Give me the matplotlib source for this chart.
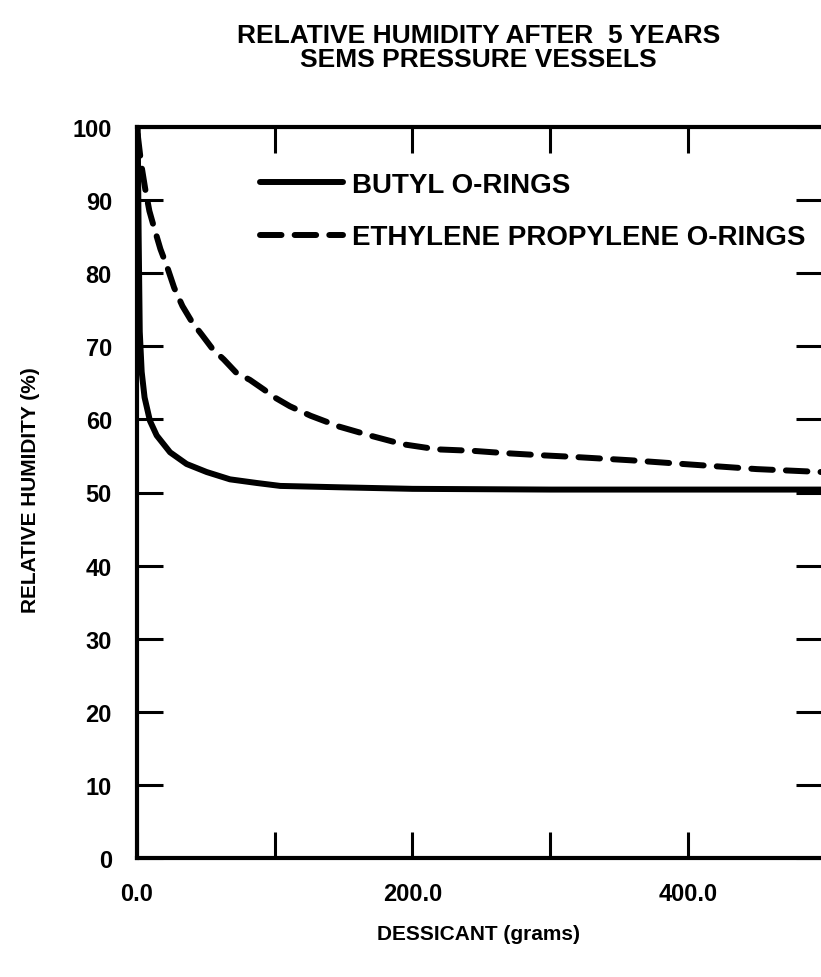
import matplotlib
matplotlib.use("Agg")
import matplotlib.pyplot as plt
from matplotlib.ticker import FixedLocator, FuncFormatter

# ---- data ----
butyl_x = [0.5, 1.2, 2.0, 3.4, 5.5, 9.4, 14.3, 24, 36, 50.6, 67.5, 87, 104, 150, 200, 300, 400, 497]
butyl_y = [100, 85, 72, 66.5, 63, 59.8, 57.8, 55.5, 53.9, 52.8, 51.8, 51.3, 50.9, 50.7, 50.5, 50.4, 50.4, 50.4]

ep_x = [0.5, 3, 6, 9, 12, 17, 22, 27, 33, 40, 47, 55, 63, 72, 82, 92, 100, 111, 126, 147,
        171, 193, 218, 244, 266, 293, 314, 359, 404, 450, 497]
ep_y = [99, 95, 91.5, 88.5, 86.5, 83.3, 80.8, 78, 75.5, 73.3, 71.6, 69.6, 68.2, 66.4, 65.4, 64.1,
        63.0, 61.8, 60.5, 59.0, 57.7, 56.6, 55.9, 55.7, 55.4, 55.1, 54.9, 54.4, 53.8, 53.2, 52.8]

x_ticks = [0, 100, 200, 300, 400]
x_labels = {0: "0.0", 200: "200.0", 400: "400.0"}
y_ticks = [0, 10, 20, 30, 40, 50, 60, 70, 80, 90, 100]

series_names = ["BUTYL O-RINGS", "ETHYLENE PROPYLENE O-RINGS"]
title = "RELATIVE HUMIDITY AFTER  5 YEARS\nSEMS PRESSURE VESSELS"
xlabel = "DESSICANT (grams)"
ylabel = "RELATIVE HUMIDITY (%)"

plt.rcParams['font.family'] = ['Liberation Sans', 'DejaVu Sans']
plt.rcParams['font.weight'] = 'bold'

W, H = 821, 978
fig = plt.figure(figsize=(W / 100, H / 100), dpi=100)
left, right, top, bottom = 137, 822, 128, 859
ax = fig.add_axes([left / W, 1 - bottom / H, (right - left) / W, (bottom - top) / H])

ax.plot(butyl_x, butyl_y, color='black', lw=4.3, solid_capstyle='round',
        label=series_names[0])
ax.plot(ep_x, ep_y, color='black', lw=4.3, dashes=(3.6, 2.2), dash_capstyle='round',
        label=series_names[1])

ax.set_xlim(0, 497.3)
ax.set_ylim(0, 100)

ax.xaxis.set_major_locator(FixedLocator(x_ticks))
ax.xaxis.set_major_formatter(FuncFormatter(lambda v, p: x_labels.get(int(round(v)), "")))
ax.yaxis.set_major_locator(FixedLocator(y_ticks))
ax.yaxis.set_major_formatter(FuncFormatter(lambda v, p: f"{int(round(v))}"))

ax.tick_params(axis='both', direction='in', length=19, width=2.2, labelsize=17,
               top=True, right=True)
ax.tick_params(axis='x', pad=17)
ax.tick_params(axis='y', pad=18)
for lab in ax.get_xticklabels() + ax.get_yticklabels():
    lab.set_fontweight('bold')

for s in ax.spines.values():
    s.set_linewidth(3)
ax.spines['right'].set_linewidth(2)

fig.text((left + 820) / 2 / W, 1 - 48 / H, title, ha='center', va='center',
         fontsize=19, fontweight='bold', linespacing=0.95)

fig.text((left + 820) / 2 / W, 1 - 935 / H, xlabel, ha='center', va='center',
         fontsize=15, fontweight='bold')
fig.text(30 / W, 1 - 490 / H, ylabel, ha='center', va='center', rotation=90,
         fontsize=15, fontweight='bold')

leg = ax.legend(loc='upper left',
                bbox_to_anchor=((260 - left) / (right - left), 1 - (173 - top) / (bottom - top)),
                frameon=False, fontsize=20, handlelength=3.0, handletextpad=0.3,
                labelspacing=0.95, borderaxespad=0, borderpad=0)
for t in leg.get_texts():
    t.set_fontweight('bold')

fig.savefig("out.png", dpi=100)
